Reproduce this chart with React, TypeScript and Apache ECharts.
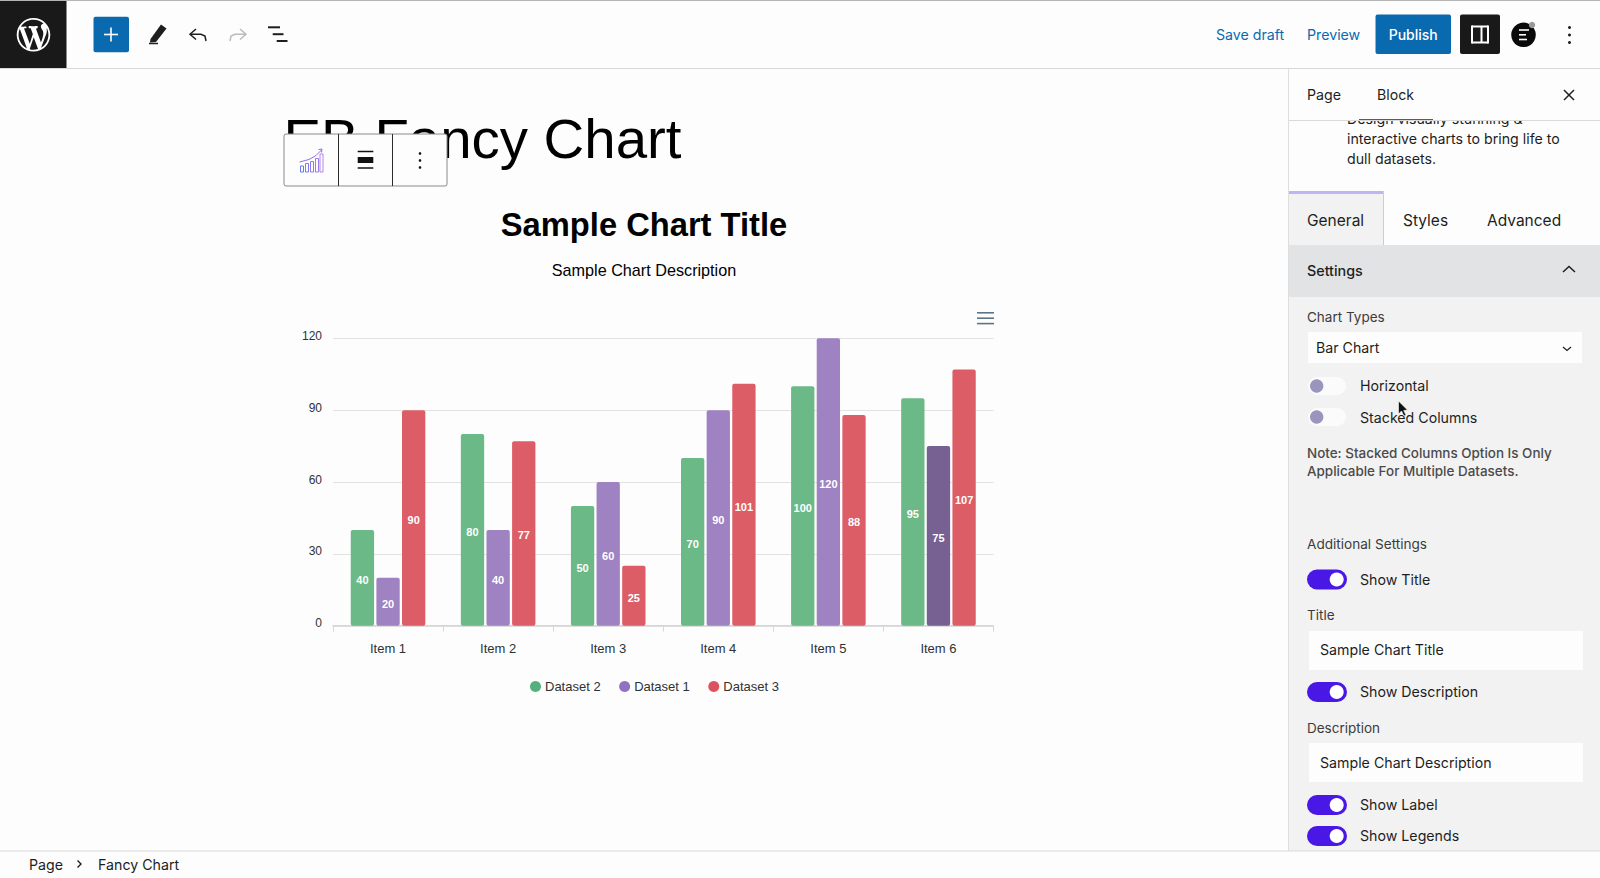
import { useEffect, useRef } from "react";
import * as echarts from "echarts";

const categories = ["Item 1", "Item 2", "Item 3", "Item 4", "Item 5", "Item 6"];
const dataset2 = [40, 80, 50, 70, 100, 95];
const dataset1 = [20, 40, 60, 90, 120, 75];
const dataset3 = [90, 77, 25, 101, 88, 107];
const yTicks = [0, 30, 60, 90, 120];
// the column under the mouse in the screenshot
const hoveredItem = 5;

const WP_LOGO =
  "M20 10c0-5.51-4.49-10-10-10C4.48 0 0 4.49 0 10c0 5.52 4.48 10 10 10 5.51 0 10-4.48 10-10zM7.78 15.37L4.37 6.22c.55-.02 1.17-.08 1.17-.08.5-.06.44-1.13-.06-1.11 0 0-1.45.11-2.37.11-.18 0-.37 0-.58-.01C4.12 2.69 6.87 1.11 10 1.11c2.33 0 4.45.87 6.05 2.34-.68-.11-1.65.39-1.65 1.58 0 .74.45 1.36.9 2.1.35.61.55 1.36.55 2.46 0 1.49-1.4 5-1.4 5l-3.03-8.37c.54-.02.82-.17.82-.17.5-.05.44-1.25-.06-1.22 0 0-1.44.12-2.38.12-.87 0-2.33-.12-2.33-.12-.5-.03-.56 1.2-.06 1.22l.92.08 1.26 3.41zM17.41 10c.24-.64.74-1.87.43-4.25.7 1.29 1.05 2.71 1.05 4.25 0 3.29-1.73 6.24-4.4 7.78.97-2.59 1.94-5.2 2.92-7.78zM6.1 18.09C3.12 16.65 1.11 13.53 1.11 10c0-1.3.23-2.48.72-3.59C3.25 10.3 4.67 14.2 6.1 18.09zm4.03-6.63l2.58 6.98c-.86.29-1.76.45-2.71.45-.79 0-1.57-.11-2.29-.33.81-2.38 1.62-4.74 2.42-7.1z";

const UI_FONT = "Inter, Roboto, sans-serif";
const CHART_FONT = "'Liberation Sans', Arial, sans-serif";
const INK = "#1e1e1e";
const BLUE = "#0a6ab0";
const VIOLET = "#4a18e6";
const AXIS_TEXT = "#2f3233";

function txt(x: number, y: number, text: string, size = 14.2, fill = INK, extra: any = {}) {
  return {
    type: "text", x, y, silent: true,
    style: { text, fontSize: size, fontFamily: UI_FONT, fill, verticalAlign: "middle", ...extra },
  };
}
function box(x: number, y: number, width: number, height: number, fill: string, r = 0, stroke?: string) {
  return {
    type: "rect", silent: true,
    shape: { x, y, width, height, r },
    style: { fill, stroke: stroke || "none", lineWidth: stroke ? 1 : 0 },
  };
}
function seg(x1: number, y1: number, x2: number, y2: number, stroke = INK, lineWidth = 1.5) {
  return {
    type: "line", silent: true,
    shape: { x1, y1, x2, y2 },
    style: { stroke, lineWidth },
  };
}
function poly(points: number[][], stroke = INK, lineWidth = 1.5) {
  return {
    type: "polyline", silent: true,
    shape: { points },
    style: { stroke, lineWidth, fill: "none" },
  };
}
function dot(cx: number, cy: number, r: number, fill: string) {
  return { type: "circle", silent: true, shape: { cx, cy, r }, style: { fill } };
}
function toggle(y: number, on: boolean) {
  if (on) {
    return [box(1307, y - 10, 40, 20, VIOLET, 10), dot(1336.7, y, 7, "#ffffff")];
  }
  return [box(1308, y - 9, 38, 18, "#fbfbfb", 9), dot(1316.7, y, 6.7, "#9a95bd")];
}

function chrome() {
  return [
    // page and frame
    box(0, 0, 1600, 878, "#fdfdfd"),
    seg(0, 0.5, 1600, 0.5, "#b4b4b4", 1),
    seg(0, 68.5, 1600, 68.5, "#d8d8d8", 1),
    box(0, 1, 66.5, 67, "#191919"),
    { type: "wpLogo", silent: true, x: 16.7, y: 18, scaleX: 1.68, scaleY: 1.68, style: { fill: "#ffffff" } },

    // left toolbar
    box(93.5, 16.7, 35.5, 35.5, BLUE, 2),
    seg(104, 34.5, 118, 34.5, "#ffffff", 1.6),
    seg(111, 27.5, 111, 41.5, "#ffffff", 1.6),
    { type: "polygon", silent: true, shape: { points: [[150.5, 39], [161, 24.5], [166.5, 28.5], [156, 42], [150, 42.5]] }, style: { fill: INK } },
    seg(149, 43.5, 158, 43.5, INK, 1.5),
    poly([[196, 29], [190, 34.3], [196, 39.5]]),
    poly([[190, 34.3], [201, 34.3], [205, 36], [206, 41]]),
    poly([[240, 29], [246, 34.3], [240, 39.5]], "#bbbbbb"),
    poly([[246, 34.3], [235, 34.3], [231, 36], [230, 41]], "#bbbbbb"),
    seg(268, 27.3, 280, 27.3, INK, 2),
    seg(272.7, 34.2, 283.5, 34.2, INK, 2),
    seg(276.7, 41, 287.5, 41, INK, 2),

    // right toolbar
    txt(1216, 34.2, "Save draft", 14.2, BLUE),
    txt(1307, 34.2, "Preview", 14.2, BLUE),
    box(1375.5, 14.5, 75.5, 39.5, BLUE, 2),
    txt(1413.2, 34.5, "Publish", 14, "#ffffff", { align: "center", fontWeight: 500 }),
    box(1460, 14.5, 40, 39.5, "#191919", 2),
    seg(1472, 26.5, 1488, 26.5, "#ffffff", 2),
    seg(1472, 42.5, 1488, 42.5, "#ffffff", 2),
    seg(1472, 25.5, 1472, 43.5, "#ffffff", 2),
    seg(1488, 25.5, 1488, 43.5, "#ffffff", 2),
    seg(1481.5, 26.5, 1481.5, 42.5, "#ffffff", 2),
    dot(1523.5, 34.8, 12.3, "#0a0a0a"),
    dot(1532, 25, 3.2, "#9a9a9a"),
    seg(1519, 30, 1529, 30, "#ffffff", 1.6),
    seg(1519, 34.8, 1526, 34.8, "#ffffff", 1.6),
    seg(1519, 39.5, 1527, 39.5, "#ffffff", 1.6),
    dot(1569.5, 27.5, 1.5, INK),
    dot(1569.5, 35, 1.5, INK),
    dot(1569.5, 42.5, 1.5, INK),

    // post title and the block toolbar over it
    {
      type: "text", x: 283.5, y: 138, silent: true,
      style: { text: "EB Fancy Chart", fontSize: 56.4, fontFamily: CHART_FONT, fill: "#000000", verticalAlign: "middle" },
    },
    box(284, 134, 163, 52, "#fdfdfd", 2, "#8a8a8a"),
    seg(338.5, 134, 338.5, 186, "#2a2a2a", 1),
    seg(392.5, 134, 392.5, 186, "#2a2a2a", 1),
    box(300.5, 166, 3, 6, "none", 0, "#5c7df2"),
    box(305.5, 163.5, 3, 8.5, "none", 0, "#7a7cf0"),
    box(310.5, 161.5, 3, 10.5, "none", 0, "#9079ee"),
    box(315.5, 158.5, 3, 13.5, "none", 0, "#a079ea"),
    box(320, 154, 3, 18, "none", 0, "#b487e8"),
    poly([[299.5, 162], [309, 159.5], [316, 155.5], [321.5, 150]], "#8f6cf0", 1),
    poly([[318.5, 149.5], [322, 149], [321.5, 152.5]], "#8f6cf0", 1),
    seg(357.7, 151.5, 373.3, 151.5, "#111111", 1.5),
    box(357.7, 157, 15.6, 6, "#111111"),
    seg(357.7, 168, 373.3, 168, "#111111", 1.5),
    dot(420, 153.5, 1.3, "#111111"),
    dot(420, 160.5, 1.3, "#111111"),
    dot(420, 167.5, 1.3, "#111111"),

    // chart menu
    seg(977, 312.8, 994, 312.8, "#5f7386", 1.6),
    seg(977, 318.2, 994, 318.2, "#5f7386", 1.6),
    seg(977, 323.6, 994, 323.6, "#5f7386", 1.6),

    // sidebar
    seg(1288.5, 69, 1288.5, 851, "#dedede", 1),
    txt(1347, 118, "Design visually stunning &", 14.2),
    txt(1347, 138.3, "interactive charts to bring life to", 14.2),
    txt(1347, 158.7, "dull datasets.", 14.2),
    box(1289, 69, 311, 51, "#fdfdfd"),
    seg(1289, 120.5, 1600, 120.5, "#dadada", 1),
    seg(1359, 119.5, 1433, 119.5, "#2b5fd0", 1),
    txt(1307, 94.7, "Page", 14.2),
    txt(1377, 94.7, "Block", 14.2),
    seg(1564, 90, 1574, 100, INK, 1.5),
    seg(1574, 90, 1564, 100, INK, 1.5),

    box(1289, 191, 95, 54, "#f2f2f2"),
    box(1289, 191, 95, 3, "#c2b4f2"),
    seg(1383.5, 191, 1383.5, 245, "#cfc6ef", 1),
    txt(1307, 220, "General", 15.5),
    txt(1403, 220, "Styles", 15.5),
    txt(1487, 220, "Advanced", 15.5),
    box(1289, 245, 311, 52, "#e2e3e4"),
    txt(1307, 270.2, "Settings", 14.3, INK, { fontWeight: 500 }),
    poly([[1563, 272], [1569, 266.5], [1575, 272]]),
    box(1289, 297, 311, 554, "#f2f2f2"),

    txt(1307, 317, "Chart Types", 13.5, "#3c3c3c"),
    box(1308, 332, 274, 31, "#fdfdfd"),
    txt(1316, 347.7, "Bar Chart", 14.2),
    poly([[1563, 347], [1567, 350.5], [1571, 347]], INK, 1.2),
    ...toggle(386, false),
    txt(1360, 385.2, "Horizontal", 14.2),
    ...toggle(417, false),
    txt(1360, 417.2, "Stacked Columns", 14.2),
    txt(1307, 453, "Note: Stacked Columns Option Is Only", 13.45, "#4a4a4a", { fontWeight: 500 }),
    txt(1307, 471, "Applicable For Multiple Datasets.", 13.45, "#4a4a4a", { fontWeight: 500 }),
    txt(1307, 544, "Additional Settings", 13.6, "#3c3c3c"),
    ...toggle(579.5, true),
    txt(1360, 579.2, "Show Title", 14.2),
    txt(1307, 615, "Title", 13.5, "#3c3c3c"),
    box(1309, 631, 274, 39, "#fdfdfd"),
    txt(1320, 649.7, "Sample Chart Title", 14.2),
    ...toggle(692, true),
    txt(1360, 691.2, "Show Description", 14.2),
    txt(1307, 728, "Description", 13.5, "#3c3c3c"),
    box(1309, 743, 274, 39, "#fdfdfd"),
    txt(1320, 762.2, "Sample Chart Description", 14.2),
    ...toggle(805, true),
    txt(1360, 804.2, "Show Label", 14.2),
    ...toggle(836, true),
    txt(1360, 835.2, "Show Legends", 14.2),
    {
      type: "polygon", silent: true,
      shape: { points: [[1398.5, 401], [1398.5, 414], [1401.5, 411], [1404, 416], [1406, 415], [1403.7, 410.5], [1407.5, 410]] },
      style: { fill: "#111111", stroke: "#ffffff", lineWidth: 0.6 },
    },

    // breadcrumb bar
    box(0, 851, 1600, 27, "#fdfdfd"),
    seg(0, 851, 1600, 851, "#dadada", 1),
    txt(29, 864.5, "Page", 14.2),
    poly([[77.5, 860.5], [81, 864], [77.5, 867.5]], INK, 1.4),
    txt(98, 864.5, "Fancy Chart", 14.2),
  ];
}

export default function App() {
  const chartRef = useRef<HTMLDivElement>(null);

  useEffect(() => {
    if (!chartRef.current) return;
    echarts.graphic.registerShape("wpLogo", echarts.graphic.extendPath(WP_LOGO, {}) as any);
    const chart = echarts.init(chartRef.current, null, { renderer: "svg" });

    const barSeries = (name: string, color: string, values: any[]) => ({
      name,
      type: "bar",
      data: values,
      barWidth: 23.3,
      barGap: "10%",
      itemStyle: { color, borderRadius: 2 },
      label: {
        show: true,
        position: "inside",
        offset: [0, 2],
        color: "#ffffff",
        fontSize: 11,
        fontWeight: "bold",
        fontFamily: CHART_FONT,
      },
    });

    chart.setOption({
      animation: false,
      backgroundColor: "#fdfdfd",
      graphic: { elements: chrome().map((el) => ({ ...el, z: -1 })) },
      title: {
        text: "Sample Chart Title",
        subtext: "Sample Chart Description",
        left: 644,
        top: 206,
        padding: 0,
        textAlign: "center",
        itemGap: 18,
        textStyle: { fontSize: 32.7, fontWeight: "bold", color: "#000000", fontFamily: CHART_FONT, lineHeight: 36 },
        subtextStyle: { fontSize: 16.2, color: "#000000", fontFamily: CHART_FONT, lineHeight: 20 },
      },
      legend: {
        left: 530,
        top: 680,
        padding: 0,
        icon: "circle",
        itemWidth: 11,
        itemHeight: 11,
        itemGap: 18.5,
        textStyle: { fontSize: 13, color: AXIS_TEXT, fontFamily: CHART_FONT, padding: [0, 0, 0, -1] },
        data: [
          { name: "Dataset 2", itemStyle: { color: "#55b17b" } },
          { name: "Dataset 1", itemStyle: { color: "#9272c0" } },
          { name: "Dataset 3", itemStyle: { color: "#dc5360" } },
        ],
      },
      grid: { left: 333, top: 338.3, width: 660.5, height: 287.4 },
      xAxis: {
        type: "category",
        data: categories,
        axisLine: { lineStyle: { color: "#d2d2d2", width: 1.5 } },
        axisTick: { show: true, length: 6, lineStyle: { color: "#d8d8d8" } },
        axisLabel: { fontSize: 13, color: AXIS_TEXT, fontFamily: CHART_FONT, margin: 16 },
      },
      yAxis: {
        type: "value",
        min: yTicks[0],
        max: yTicks[yTicks.length - 1],
        interval: yTicks[1] - yTicks[0],
        axisLine: { show: false },
        axisTick: { show: false },
        splitLine: { lineStyle: { color: "#e2e2e2", width: 1 } },
        // tick labels sit a little above their grid line in the reference
        axisLabel: { fontSize: 12, color: AXIS_TEXT, fontFamily: CHART_FONT, margin: 11, verticalAlign: "bottom", lineHeight: 5 },
      },
      series: [
        barSeries("Dataset 2", "#6ab987", dataset2),
        barSeries(
          "Dataset 1",
          "#9e82c2",
          dataset1.map((value, i) => (i === hoveredItem ? { value, itemStyle: { color: "#776092" } } : value)),
        ),
        barSeries("Dataset 3", "#dd5d66", dataset3),
      ],
    });

    return () => {
      chart.dispose();
    };
  }, []);

  return <div ref={chartRef} style={{ position: "fixed", left: 0, top: 0, width: 1600, height: 878 }} />;
}
